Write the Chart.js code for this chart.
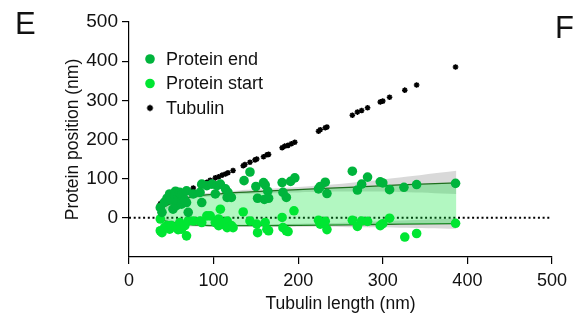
<!DOCTYPE html>
<html>
<head>
<meta charset="utf-8">
<script src="https://cdn.jsdelivr.net/npm/chart.js@4.4.0/dist/chart.umd.min.js"></script>
<style>
  html, body { margin: 0; padding: 0; background: #fff; }
  #wrap { position: relative; width: 573px; height: 320px; overflow: hidden; }
  .panel { position: absolute; font-family: "Liberation Sans", Arial, sans-serif; font-size: 31px; line-height: 1; color: #111; }
</style>
</head>
<body>
<div id="wrap">
  <canvas id="chart" width="573" height="320"></canvas>
  <div class="panel" style="left:15px; top:8px;">E</div>
  <div class="panel" style="left:555px; top:12px;">F</div>
</div>
<script>
const xTicks = [0, 100, 200, 300, 400, 500];
const yTicks = [0, 100, 200, 300, 400, 500];

// protein end (x = tubulin length, y = position)
const endLength = [37, 39, 42, 45, 48, 50, 52, 54, 55, 56, 58, 60, 62, 62, 64, 66, 68, 68, 70, 76, 84, 86, 86, 92, 98, 102, 104, 108, 114, 116, 117, 121,
  136, 143, 150, 152, 159, 160, 161, 164, 165, 181, 182, 186, 191, 196,
  224, 226, 232, 234, 264, 270, 275, 282, 297, 300, 308, 325, 340, 386];
const endPos = [26, 14, 40, 50, 61, 45, 22, 56, 68, 31, 44, 65, 35, 58, 52, 45, 69, 39, 14, 61, 65, 39, 86, 82, 86, 61, 82, 86, 74, 52, 65, 52,
  95, 117, 80, 50, 90, 47, 84, 68, 50, 90, 65, 52, 93, 102,
  74, 80, 91, 62, 119, 71, 86, 104, 92, 89, 72, 78, 85, 88];

// protein start
const startLength = [37, 37, 39, 42, 45, 48, 50, 56, 58, 60, 62, 66, 68, 70, 76, 84, 86, 92, 96, 102, 106, 106, 108, 110, 114, 116, 116, 121, 123,
  135, 143, 151, 152, 161, 163, 165, 181, 182, 186, 188, 195,
  224, 226, 232, 234, 264, 270, 275, 282, 297, 300, 308, 326, 340, 386];
const startPos = [-3, -33, -38, -25, -20, -29, -20, -25, -30, -12, -29, -20, -46, -8, -8, -8, -12, 5, 5, -12, -20, -3, 22, -16, -12, -8, -25, -20, -25,
  15, -8, -16, -38, -12, -29, -33, 1, -25, -33, -35, 18,
  -6, -16, -9, -30, -6, -22, -8, -9, -20, -15, -1, -49, -40, -14];

// tubulin end position
const tubLength = [37, 39, 42, 45, 48, 50, 54, 56, 58, 60, 62, 64, 66, 68, 70, 76, 84, 86, 92, 96, 102, 106, 110, 114, 117, 123,
  135, 137, 143, 149, 151, 159, 163, 165, 181, 184, 188, 192, 196,
  224, 226, 232, 234, 264, 270, 275, 282, 297, 300, 308, 326, 340, 386];
const tubPos = [36, 39, 41, 44, 47, 50, 53, 55, 58, 60, 62, 63, 66, 68, 70, 76, 84, 86, 91, 96, 102, 105, 109, 112, 115, 121,
  133, 136, 142, 148, 150, 156, 161, 162, 179, 183, 185, 189, 193,
  221, 225, 230, 232, 262, 270, 274, 281, 296, 298, 308, 326, 339, 385];

// fitted curves and their confidence bands
const fitX = [37, 45, 55, 65, 75, 85, 100, 130, 160, 200, 260, 320, 387];
const upperFit = [24, 32, 42, 50, 54, 57, 60, 65, 68, 72, 78, 84, 89];
const upperHi = [36, 42, 49, 56, 59, 62, 65, 70, 74, 79, 89, 103, 120];
const upperLo = [12, 22, 35, 44, 49, 52, 55, 60, 62, 65, 67, 66, 61];
const lowerFit = [-5, -9, -13, -16, -18, -19, -20, -20, -20, -19, -18, -16, -15];
const lowerHi = [5, -2, -8, -12, -14, -16, -17, -17, -17, -15, -12, -7, -2];
const lowerLo = [-15, -16, -18, -20, -22, -22, -23, -23, -23, -23, -24, -25, -28];

const pts = (xs, ys) => xs.map((x, i) => ({ x: x, y: ys[i] }));
const font = "'Liberation Sans', Arial, sans-serif";

const green = "#00b43c";
const bright = "#00e632";

const legendPlugin = {
  id: "insideLegend",
  afterDraw(chart) {
    const c = chart.ctx;
    const items = [
      { text: "Protein end", color: green, kind: "dot" },
      { text: "Protein start", color: bright, kind: "dot" },
      { text: "Tubulin", color: "#000", kind: "star" },
    ];
    c.save();
    c.font = "18px " + font;
    c.textBaseline = "middle";
    items.forEach((it, i) => {
      const y = 59 + i * 24.5;
      if (it.kind === "dot") {
        c.fillStyle = it.color;
        c.beginPath();
        c.arc(150, y, 4.8, 0, Math.PI * 2);
        c.fill();
      } else {
        c.strokeStyle = "#000";
        c.lineWidth = 1.6;
        c.beginPath();
        for (let a = 0; a < 4; a++) {
          const ang = a * Math.PI / 4;
          c.moveTo(150 - 3.2 * Math.cos(ang), y - 3.2 * Math.sin(ang));
          c.lineTo(150 + 3.2 * Math.cos(ang), y + 3.2 * Math.sin(ang));
        }
        c.stroke();
      }
      c.fillStyle = "#111";
      c.fillText(it.text, 166, y + 1);
    });
    c.restore();
  },
};

new Chart(document.getElementById("chart"), {
  type: "scatter",
  data: {
    datasets: [
      { label: "Protein end", data: pts(endLength, endPos), backgroundColor: green, borderWidth: 0, pointRadius: 4.8, order: 0 },
      { label: "Protein start", data: pts(startLength, startPos), backgroundColor: bright, borderWidth: 0, pointRadius: 4.8, order: 1 },
      { label: "Tubulin", data: pts(tubLength, tubPos), pointStyle: "star", borderColor: "#000", backgroundColor: "#000", borderWidth: 1.5, pointRadius: 2.8, order: 2 },
      // 3: upper fit, fills down to lower fit (index 4)
      { type: "line", data: pts(fitX, upperFit), borderColor: "#1e6e1e", borderWidth: 1.3, pointRadius: 0, tension: 0.4,
        fill: { target: 4 }, backgroundColor: "rgba(0,230,50,0.3)", order: 3 },
      { type: "line", data: pts(fitX, lowerFit), borderColor: "#1e6e1e", borderWidth: 1.3, pointRadius: 0, tension: 0.4, fill: false, order: 3 },
      // 5-6: upper confidence band
      { type: "line", data: pts(fitX, upperHi), borderWidth: 0, pointRadius: 0, tension: 0.4,
        fill: { target: 6 }, backgroundColor: "rgba(0,0,0,0.15)", order: 4 },
      { type: "line", data: pts(fitX, upperLo), borderWidth: 0, pointRadius: 0, tension: 0.4, fill: false, order: 4 },
      // 7-8: lower confidence band
      { type: "line", data: pts(fitX, lowerHi), borderWidth: 0, pointRadius: 0, tension: 0.4,
        fill: { target: 8 }, backgroundColor: "rgba(0,0,0,0.15)", order: 4 },
      { type: "line", data: pts(fitX, lowerLo), borderWidth: 0, pointRadius: 0, tension: 0.4, fill: false, order: 4 },
      // zero reference line
      { type: "line", data: [{ x: 0, y: 0 }, { x: 500, y: 0 }], borderColor: "#000", borderWidth: 2, borderDash: [2, 2.7],
        pointRadius: 0, fill: false, order: 3 },
    ],
  },
  options: {
    responsive: false,
    animation: false,
    layout: { padding: { left: 63, top: 22, right: 21, bottom: 0 } },
    plugins: { legend: { display: false }, tooltip: { enabled: false } },
    scales: {
      x: {
        type: "linear", min: 0, max: 500,
        afterBuildTicks: (s) => { s.ticks = xTicks.map((v) => ({ value: v })); },
        afterFit: (s) => { s.height = 63; },
        grid: { drawOnChartArea: false, color: "#000", tickLength: 7, lineWidth: 1.2 },
        border: { color: "#000", width: 1.2 },
        ticks: { color: "#111", font: { family: font, size: 18 }, padding: 6, maxRotation: 0 },
        title: { display: true, text: "Tubulin length (nm)", color: "#111", font: { family: font, size: 17.5 }, padding: { top: 0, bottom: 5 } },
      },
      y: {
        type: "linear", min: -100, max: 500,
        afterBuildTicks: (s) => { s.ticks = yTicks.map((v) => ({ value: v })); },
        afterFit: (s) => { s.width = 66; },
        grid: { drawOnChartArea: false, color: "#000", tickLength: 7, lineWidth: 1.2 },
        border: { color: "#000", width: 1.2 },
        ticks: { color: "#111", font: { family: font, size: 19 }, padding: 4 },
        title: { display: true, text: "Protein position (nm)", color: "#111", font: { family: font, size: 17.5 }, padding: 0 },
      },
    },
  },
  plugins: [legendPlugin],
});
</script>
</body>
</html>
